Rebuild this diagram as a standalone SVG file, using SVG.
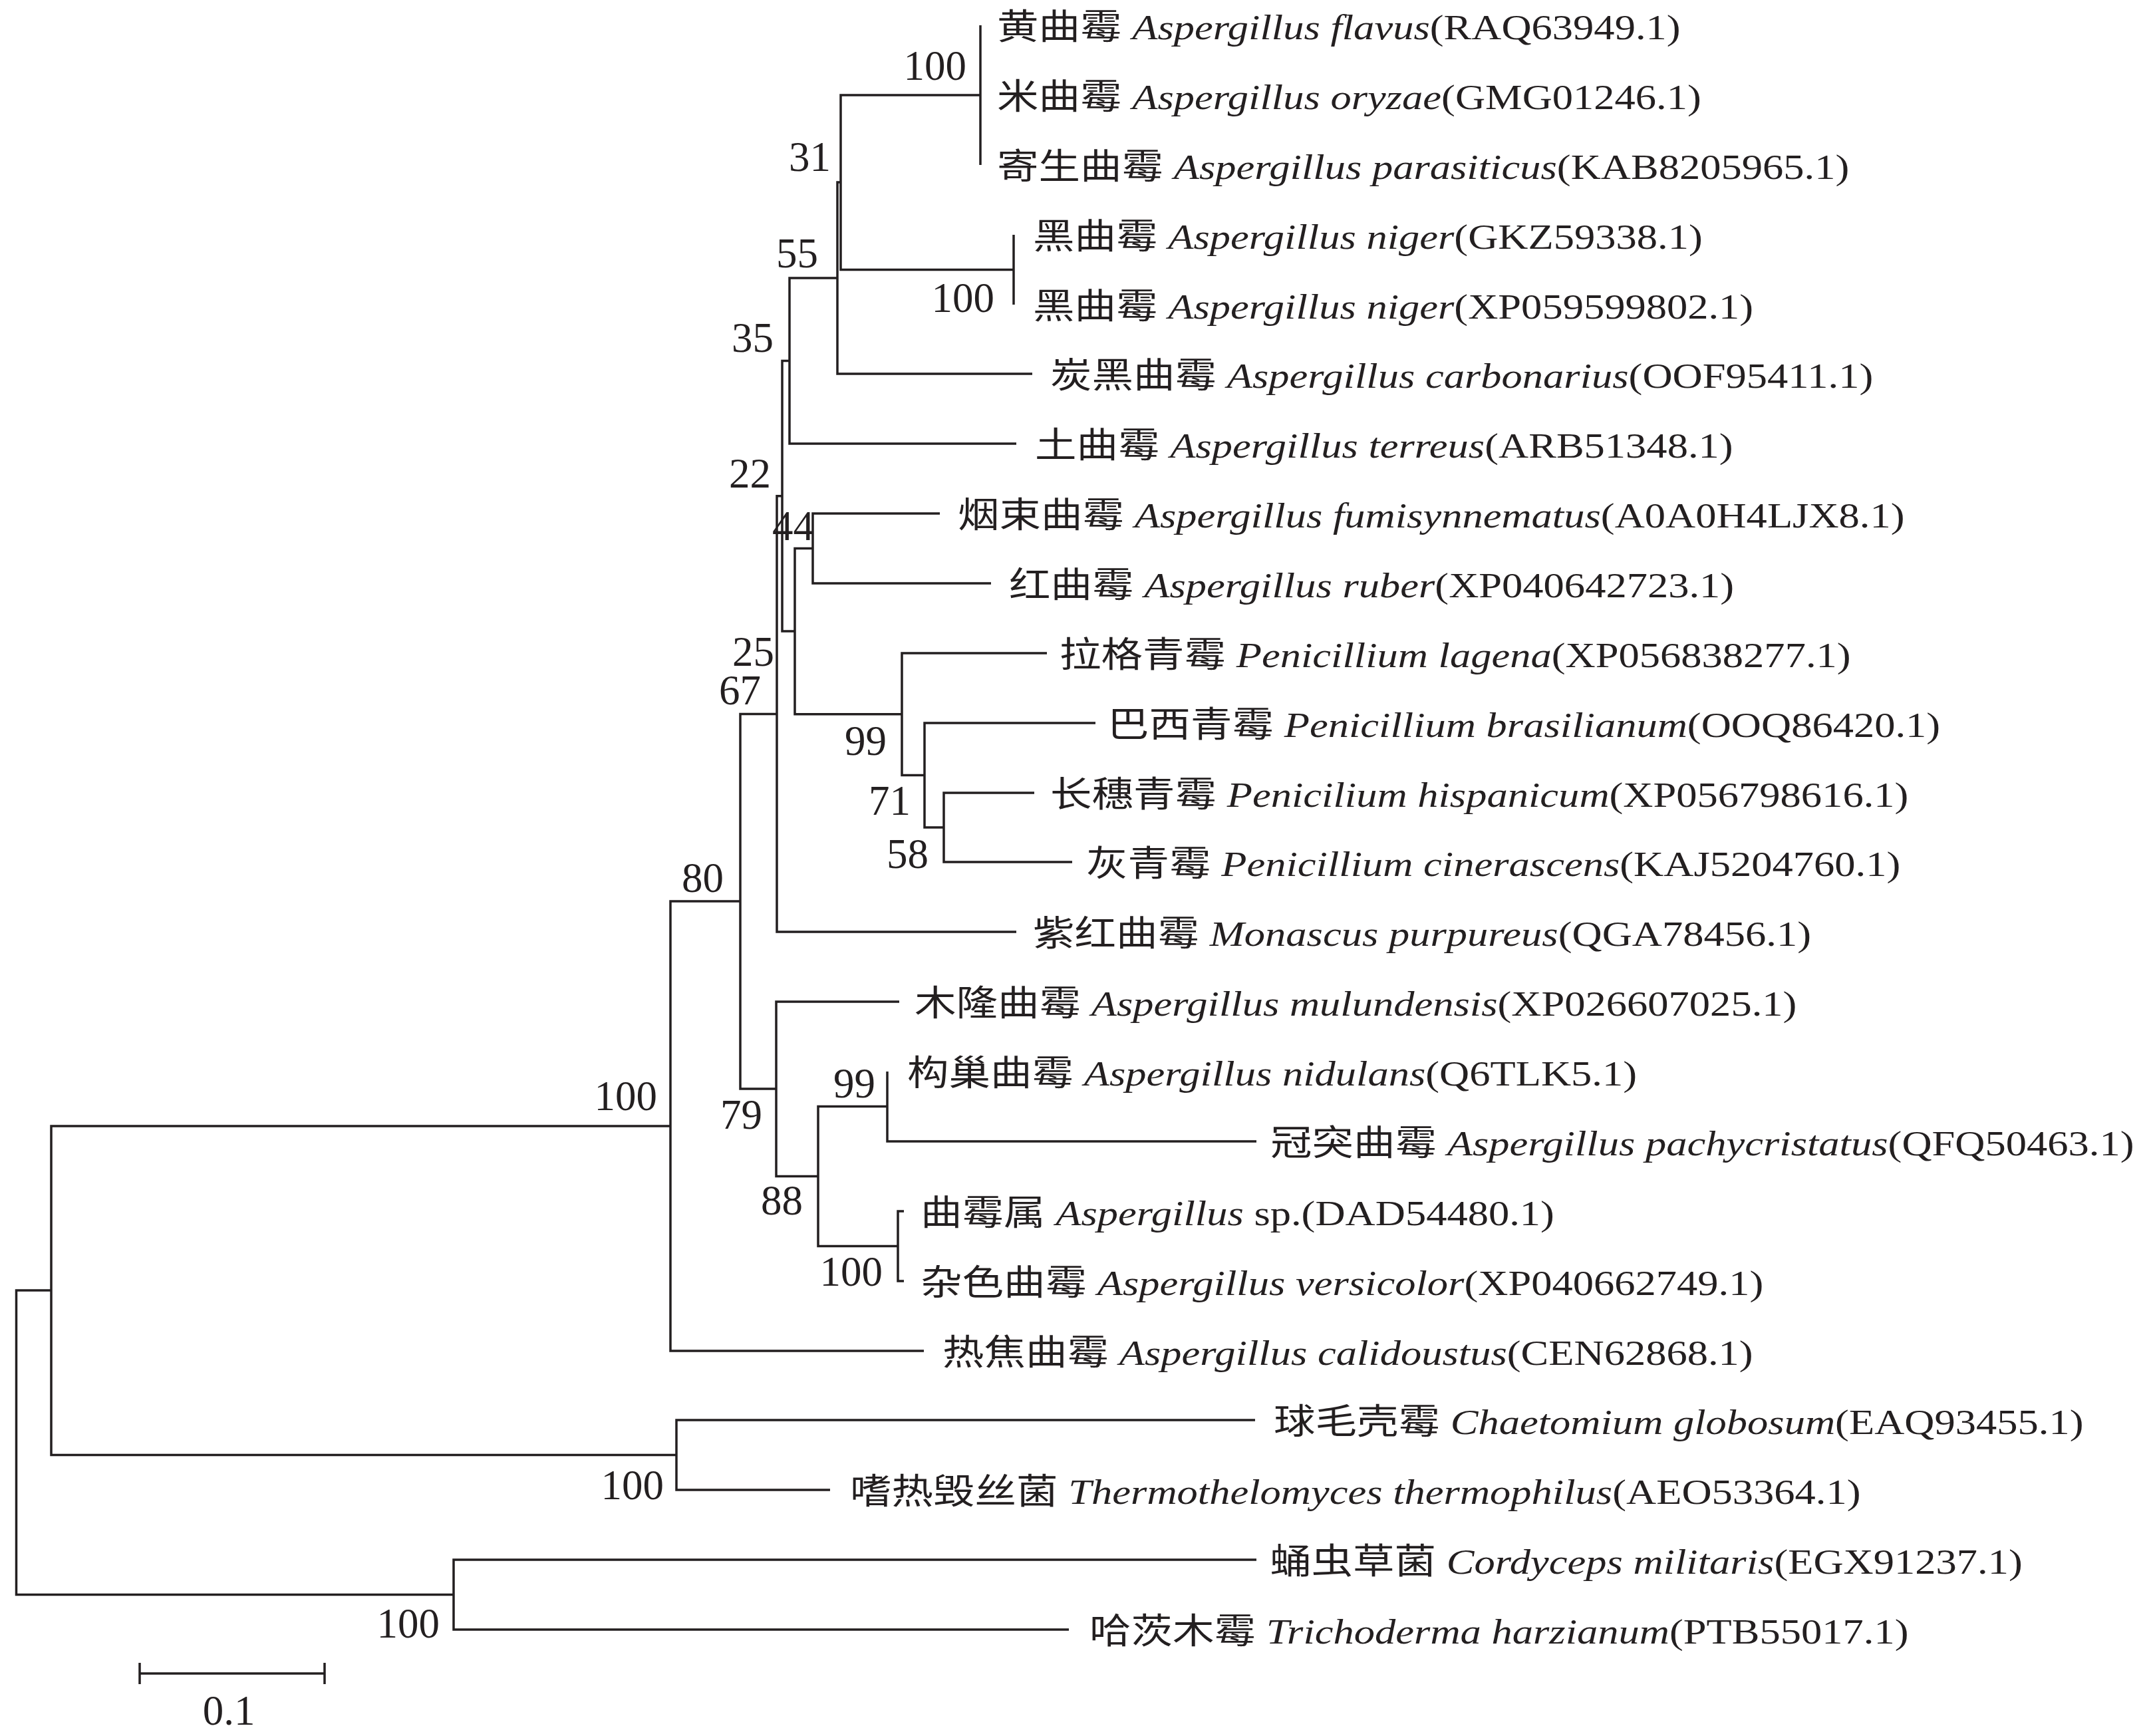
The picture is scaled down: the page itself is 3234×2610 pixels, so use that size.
<svg xmlns="http://www.w3.org/2000/svg" width="3234" height="2610" viewBox="0 0 3234 2610">
<style>
.lf{font-family:"Liberation Serif","Noto Sans CJK SC",serif;font-size:53px;fill:#231f20}
.it{font-style:italic}
.bs{font-family:"Liberation Serif",serif;font-size:63px;fill:#231f20;text-anchor:end}
.sc{font-family:"Liberation Serif",serif;font-size:63px;fill:#231f20;text-anchor:middle}
.br{fill:none;stroke:#231f20;stroke-width:3.5;stroke-linejoin:miter}
</style>
<rect width="3234" height="2610" fill="#ffffff"/>
<g id="connectors">
<path class="br" d="M1474,38 V248"/>
<path class="br" d="M1524,353 V458"/>
<path class="br" d="M1474,143 H1264 V405.5 H1524"/>
<path class="br" d="M1264,274 H1259 V562 H1552"/>
<path class="br" d="M1259,418 H1187 V667 H1528"/>
<path class="br" d="M1413,772 H1222 V877 H1490"/>
<path class="br" d="M1555,1192 H1419 V1296 H1612"/>
<path class="br" d="M1647,1087 H1390 V1244 H1419"/>
<path class="br" d="M1574,982 H1356 V1165.5 H1390"/>
<path class="br" d="M1222,824.5 H1195 V1073.75 H1356"/>
<path class="br" d="M1187,542.5 H1176 V949 H1195"/>
<path class="br" d="M1176,745.75 H1168 V1401 H1528"/>
<path class="br" d="M1334,1611 V1716 H1889"/>
<path class="br" d="M1359,1821 H1350 V1926 H1359"/>
<path class="br" d="M1334,1663.5 H1230 V1873.5 H1350"/>
<path class="br" d="M1352,1506 H1167 V1768.5 H1230"/>
<path class="br" d="M1168,1073.4 H1113 V1637 H1167"/>
<path class="br" d="M1113,1355 H1008 V2031 H1389"/>
<path class="br" d="M1887,2135 H1017 V2240 H1248"/>
<path class="br" d="M1008,1693 H77 V2187.5 H1017"/>
<path class="br" d="M1889,2345 H682 V2450 H1607"/>
<path class="br" d="M77,1940 H24.5 V2397.5 H682"/>
</g>
<g id="scale-bar">
<path class="br" d="M210,2516 H488 M210,2500 V2532 M488,2500 V2532"/>
<text class="sc" x="344" y="2593">0.1</text>
</g>
<g id="leaf-flavus"><text class="lf" transform="translate(1499,59) scale(1.18,1)">黄曲霉 <tspan class="it">Aspergillus flavus</tspan>(RAQ63949.1)</text></g>
<g id="leaf-oryzae"><text class="lf" transform="translate(1499,164) scale(1.18,1)">米曲霉 <tspan class="it">Aspergillus oryzae</tspan>(GMG01246.1)</text></g>
<g id="leaf-parasiticus"><text class="lf" transform="translate(1499,269) scale(1.18,1)">寄生曲霉 <tspan class="it">Aspergillus parasiticus</tspan>(KAB8205965.1)</text></g>
<g id="leaf-niger1"><text class="lf" transform="translate(1553,374) scale(1.18,1)">黑曲霉 <tspan class="it">Aspergillus niger</tspan>(GKZ59338.1)</text></g>
<g id="leaf-niger2"><text class="lf" transform="translate(1553,479) scale(1.18,1)">黑曲霉 <tspan class="it">Aspergillus niger</tspan>(XP059599802.1)</text></g>
<g id="leaf-carbonarius"><text class="lf" transform="translate(1579,583) scale(1.18,1)">炭黑曲霉 <tspan class="it">Aspergillus carbonarius</tspan>(OOF95411.1)</text></g>
<g id="leaf-terreus"><text class="lf" transform="translate(1556,688) scale(1.18,1)">土曲霉 <tspan class="it">Aspergillus terreus</tspan>(ARB51348.1)</text></g>
<g id="leaf-fumisynnematus"><text class="lf" transform="translate(1440,793) scale(1.18,1)">烟束曲霉 <tspan class="it">Aspergillus fumisynnematus</tspan>(A0A0H4LJX8.1)</text></g>
<g id="leaf-ruber"><text class="lf" transform="translate(1517,898) scale(1.18,1)">红曲霉 <tspan class="it">Aspergillus ruber</tspan>(XP040642723.1)</text></g>
<g id="leaf-lagena"><text class="lf" transform="translate(1593,1003) scale(1.18,1)">拉格青霉 <tspan class="it">Penicillium lagena</tspan>(XP056838277.1)</text></g>
<g id="leaf-brasilianum"><text class="lf" transform="translate(1665,1108) scale(1.18,1)">巴西青霉 <tspan class="it">Penicillium brasilianum</tspan>(OOQ86420.1)</text></g>
<g id="leaf-hispanicum"><text class="lf" transform="translate(1579,1213) scale(1.18,1)">长穗青霉 <tspan class="it">Penicilium hispanicum</tspan>(XP056798616.1)</text></g>
<g id="leaf-cinerascens"><text class="lf" transform="translate(1633,1317) scale(1.18,1)">灰青霉 <tspan class="it">Penicillium cinerascens</tspan>(KAJ5204760.1)</text></g>
<g id="leaf-purpureus"><text class="lf" transform="translate(1553,1422) scale(1.18,1)">紫红曲霉 <tspan class="it">Monascus purpureus</tspan>(QGA78456.1)</text></g>
<g id="leaf-mulundensis"><text class="lf" transform="translate(1375,1527) scale(1.18,1)">木隆曲霉 <tspan class="it">Aspergillus mulundensis</tspan>(XP026607025.1)</text></g>
<g id="leaf-nidulans"><text class="lf" transform="translate(1364,1632) scale(1.18,1)">构巢曲霉 <tspan class="it">Aspergillus nidulans</tspan>(Q6TLK5.1)</text></g>
<g id="leaf-pachycristatus"><text class="lf" transform="translate(1910,1737) scale(1.18,1)">冠突曲霉 <tspan class="it">Aspergillus pachycristatus</tspan>(QFQ50463.1)</text></g>
<g id="leaf-sp"><text class="lf" transform="translate(1384,1842) scale(1.18,1)">曲霉属 <tspan class="it">Aspergillus</tspan> sp.(DAD54480.1)</text></g>
<g id="leaf-versicolor"><text class="lf" transform="translate(1384,1947) scale(1.18,1)">杂色曲霉 <tspan class="it">Aspergillus versicolor</tspan>(XP040662749.1)</text></g>
<g id="leaf-calidoustus"><text class="lf" transform="translate(1417,2052) scale(1.18,1)">热焦曲霉 <tspan class="it">Aspergillus calidoustus</tspan>(CEN62868.1)</text></g>
<g id="leaf-globosum"><text class="lf" transform="translate(1915,2156) scale(1.18,1)">球毛壳霉 <tspan class="it">Chaetomium globosum</tspan>(EAQ93455.1)</text></g>
<g id="leaf-thermophilus"><text class="lf" transform="translate(1278,2261) scale(1.18,1)">嗜热毁丝菌 <tspan class="it">Thermothelomyces thermophilus</tspan>(AEO53364.1)</text></g>
<g id="leaf-militaris"><text class="lf" transform="translate(1909,2366) scale(1.18,1)">蛹虫草菌 <tspan class="it">Cordyceps militaris</tspan>(EGX91237.1)</text></g>
<g id="leaf-harzianum"><text class="lf" transform="translate(1638,2471) scale(1.18,1)">哈茨木霉 <tspan class="it">Trichoderma harzianum</tspan>(PTB55017.1)</text></g>
<g id="node-flavus-clade"><text class="bs" x="1453" y="120">100</text></g>
<g id="node-31"><text class="bs" x="1249" y="257">31</text></g>
<g id="node-niger-clade"><text class="bs" x="1495" y="469">100</text></g>
<g id="node-55"><text class="bs" x="1230" y="402">55</text></g>
<g id="node-35"><text class="bs" x="1163" y="529">35</text></g>
<g id="node-22"><text class="bs" x="1159" y="733">22</text></g>
<g id="node-44"><text class="bs" x="1224" y="812">44</text></g>
<g id="node-25"><text class="bs" x="1164" y="1001">25</text></g>
<g id="node-67"><text class="bs" x="1144" y="1059">67</text></g>
<g id="node-99a"><text class="bs" x="1333" y="1135">99</text></g>
<g id="node-71"><text class="bs" x="1369" y="1225">71</text></g>
<g id="node-58"><text class="bs" x="1396" y="1305">58</text></g>
<g id="node-80"><text class="bs" x="1088" y="1341">80</text></g>
<g id="node-79"><text class="bs" x="1146" y="1697">79</text></g>
<g id="node-99b"><text class="bs" x="1316" y="1650">99</text></g>
<g id="node-88"><text class="bs" x="1207" y="1826">88</text></g>
<g id="node-sp-clade"><text class="bs" x="1327" y="1933">100</text></g>
<g id="node-ingroup"><text class="bs" x="988" y="1669">100</text></g>
<g id="node-sordariales"><text class="bs" x="998" y="2254">100</text></g>
<g id="node-hypocreales"><text class="bs" x="661" y="2462">100</text></g>
</svg>
